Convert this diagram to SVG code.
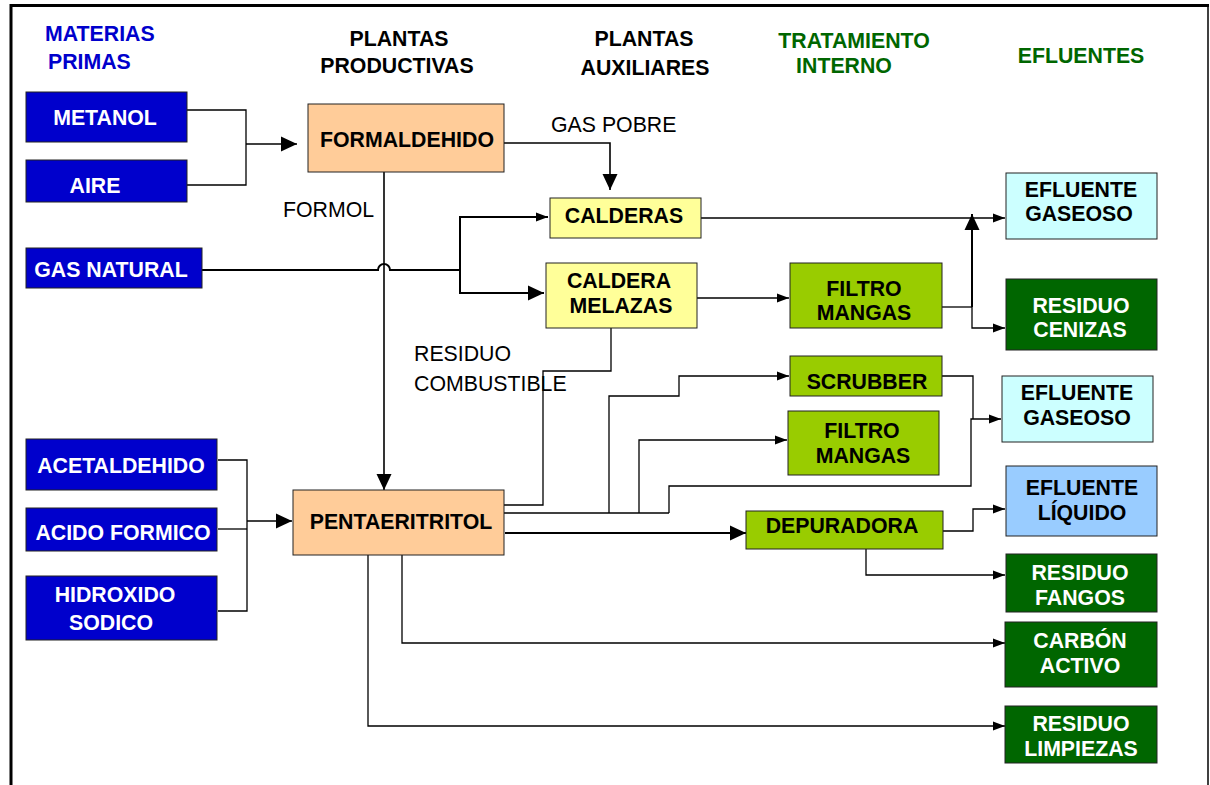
<svg xmlns="http://www.w3.org/2000/svg" width="1210" height="785" viewBox="0 0 1210 785">
<defs>
<marker id="s" markerUnits="userSpaceOnUse" markerWidth="12" markerHeight="10" refX="12" refY="5" orient="auto"><path d="M0,0.5 L12,5 L0,9.5 z" fill="#000"/></marker>
<marker id="b" markerUnits="userSpaceOnUse" markerWidth="16" markerHeight="16" refX="16" refY="8" orient="auto"><path d="M0,0.5 L16,8 L0,15.5 z" fill="#000"/></marker>
<style>
text{font-family:"Liberation Sans",Arial,sans-serif;font-size:21.3px}
.h{font-weight:bold}
.hb{fill:#0000CC}
.hg{fill:#006600}
.hk{fill:#000}
.n{font-weight:bold;text-anchor:middle}
.w{fill:#fff}
.k{fill:#000}
.lb{fill:#000}
.blue{fill:#0000CC;stroke:#222;stroke-width:1}
.peach{fill:#FFCC99;stroke:#222;stroke-width:1}
.yel{fill:#FFFF99;stroke:#222;stroke-width:1}
.lime{fill:#99CC00;stroke:#222;stroke-width:1}
.cyan{fill:#CCFFFF;stroke:#222;stroke-width:1}
.sky{fill:#99CCFF;stroke:#222;stroke-width:1}
.dg{fill:#006600;stroke:#222;stroke-width:1}
.c{fill:none;stroke:#000;stroke-width:1.3}
.t{fill:none;stroke:#000;stroke-width:2}
</style>
</defs>
<rect width="1210" height="785" fill="#fff"/>
<g id="frame">
<line x1="10" y1="5.5" x2="1209" y2="5.5" stroke="#000" stroke-width="3"/>
<line x1="11" y1="4" x2="11" y2="785" stroke="#000" stroke-width="3"/>
<line x1="1208" y1="5" x2="1208" y2="785" stroke="#000" stroke-width="1.5"/>
</g>
<g id="headers">
<text class="h hb" x="45" y="41">MATERIAS</text>
<text class="h hb" x="48" y="68.5">PRIMAS</text>
<text class="h hk" x="399" y="45.5" text-anchor="middle">PLANTAS</text>
<text class="h hk" x="397" y="73" text-anchor="middle">PRODUCTIVAS</text>
<text class="h hk" x="644" y="46" text-anchor="middle">PLANTAS</text>
<text class="h hk" x="645" y="75" text-anchor="middle">AUXILIARES</text>
<text class="h hg" x="854" y="48" text-anchor="middle">TRATAMIENTO</text>
<text class="h hg" x="844" y="73" text-anchor="middle">INTERNO</text>
<text class="h hg" x="1081" y="63" text-anchor="middle">EFLUENTES</text>
</g>
<g id="connectors">
<path class="c" d="M187,110 H246 V185 H187"/>
<path class="c" d="M246,144 H297" marker-end="url(#b)"/>
<path class="t" style="stroke-width:1.6" d="M504,143 H610 V190" marker-end="url(#b)"/>
<path class="t" style="stroke-width:1.6" d="M384,172 V490" marker-end="url(#b)"/>
<path class="t" d="M202,270 H378 A6,6 0 0 1 390,270 H460"/>
<path class="t" d="M460,270 V217 H548" marker-end="url(#s)"/>
<path class="t" d="M460,270 V293 H544" marker-end="url(#b)"/>
<path class="c" d="M701,218 H1005" marker-end="url(#s)"/>
<path class="c" d="M697,298 H789" marker-end="url(#s)"/>
<path class="c" d="M942,307 H972"/>
<path class="t" d="M972,307 V214" marker-end="url(#b)"/>
<path class="c" d="M972,307 V328 H1005" marker-end="url(#s)"/>
<path class="c" d="M218,460 H247 V611 H218"/>
<path class="c" d="M218,529 H247"/>
<path class="c" d="M247,521 H292" marker-end="url(#b)"/>
<path class="c" d="M504,505 H543 V371 H611 V328"/>
<path class="c" d="M504,513 H669"/>
<path class="c" d="M609,513 V396 H679 V376 H789" marker-end="url(#s)"/>
<path class="c" d="M639,513 V440 H787" marker-end="url(#s)"/>
<path class="c" d="M669,513 V486 H971 V419 H1001" marker-end="url(#s)"/>
<path class="c" d="M942,376 H973 V419"/>
<path class="t" d="M505,533 H746" marker-end="url(#b)"/>
<path class="c" d="M943,531 H973 V509 H1005" marker-end="url(#s)"/>
<path class="c" d="M866,549 V575 H1005" marker-end="url(#s)"/>
<path class="c" d="M402,555 V643 H1005" marker-end="url(#s)"/>
<path class="c" d="M368,555 V726 H1005" marker-end="url(#s)"/>
</g>
<g id="labels">
<text class="lb" x="551" y="132">GAS POBRE</text>
<text class="lb" x="283" y="217">FORMOL</text>
<text class="lb" x="414" y="361">RESIDUO</text>
<text class="lb" x="414" y="391">COMBUSTIBLE</text>
</g>
<g id="metanol"><rect class="blue" x="26" y="92" width="161" height="50"/><text class="n w" x="105" y="125">METANOL</text></g>
<g id="aire"><rect class="blue" x="26" y="160" width="161" height="42"/><text class="n w" x="95" y="193">AIRE</text></g>
<g id="gas-natural"><rect class="blue" x="26" y="248" width="176" height="40"/><text class="n w" x="111" y="277">GAS NATURAL</text></g>
<g id="acetaldehido"><rect class="blue" x="26" y="439" width="191" height="51"/><text class="n w" x="121" y="473">ACETALDEHIDO</text></g>
<g id="acido-formico"><rect class="blue" x="26" y="508" width="191" height="43"/><text class="n w" x="123" y="540">ACIDO FORMICO</text></g>
<g id="hidroxido-sodico"><rect class="blue" x="26" y="576" width="191" height="64"/><text class="n w" x="115" y="602">HIDROXIDO</text><text class="n w" x="111" y="630">SODICO</text></g>
<g id="formaldehido"><rect class="peach" x="308" y="104" width="196" height="68"/><text class="n k" x="407" y="147">FORMALDEHIDO</text></g>
<g id="pentaeritritol"><rect class="peach" x="293" y="490" width="211" height="65"/><text class="n k" x="401" y="529">PENTAERITRITOL</text></g>
<g id="calderas"><rect class="yel" x="550" y="198" width="151" height="40"/><text class="n k" x="624" y="223">CALDERAS</text></g>
<g id="caldera-melazas"><rect class="yel" x="546" y="263" width="151" height="65"/><text class="n k" x="619" y="288">CALDERA</text><text class="n k" x="621" y="313">MELAZAS</text></g>
<g id="filtro-mangas-1"><rect class="lime" x="790" y="263" width="152" height="65"/><text class="n k" x="864" y="296">FILTRO</text><text class="n k" x="864" y="320">MANGAS</text></g>
<g id="scrubber"><rect class="lime" x="790" y="356" width="152" height="40"/><text class="n k" x="867" y="389">SCRUBBER</text></g>
<g id="filtro-mangas-2"><rect class="lime" x="788" y="411" width="151" height="64"/><text class="n k" x="862" y="438">FILTRO</text><text class="n k" x="863" y="463">MANGAS</text></g>
<g id="depuradora"><rect class="lime" x="746" y="511" width="197" height="38"/><text class="n k" x="842" y="533">DEPURADORA</text></g>
<g id="efluente-gaseoso-1"><rect class="cyan" x="1006" y="173" width="151" height="66"/><text class="n k" x="1081" y="197">EFLUENTE</text><text class="n k" x="1079" y="221">GASEOSO</text></g>
<g id="residuo-cenizas"><rect class="dg" x="1006" y="279" width="151" height="71"/><text class="n w" x="1081" y="313">RESIDUO</text><text class="n w" x="1080" y="337">CENIZAS</text></g>
<g id="efluente-gaseoso-2"><rect class="cyan" x="1002" y="376" width="151" height="66"/><text class="n k" x="1077" y="400">EFLUENTE</text><text class="n k" x="1077" y="425">GASEOSO</text></g>
<g id="efluente-liquido"><rect class="sky" x="1006" y="466" width="151" height="70"/><text class="n k" x="1082" y="495">EFLUENTE</text><text class="n k" x="1082" y="520">LÍQUIDO</text></g>
<g id="residuo-fangos"><rect class="dg" x="1006" y="554" width="151" height="58"/><text class="n w" x="1080" y="580">RESIDUO</text><text class="n w" x="1080" y="605">FANGOS</text></g>
<g id="carbon-activo"><rect class="dg" x="1005" y="622" width="152" height="65"/><text class="n w" x="1080" y="648">CARBÓN</text><text class="n w" x="1080" y="673">ACTIVO</text></g>
<g id="residuo-limpiezas"><rect class="dg" x="1005" y="706" width="152" height="57"/><text class="n w" x="1081" y="731">RESIDUO</text><text class="n w" x="1081" y="756">LIMPIEZAS</text></g>
</svg>
